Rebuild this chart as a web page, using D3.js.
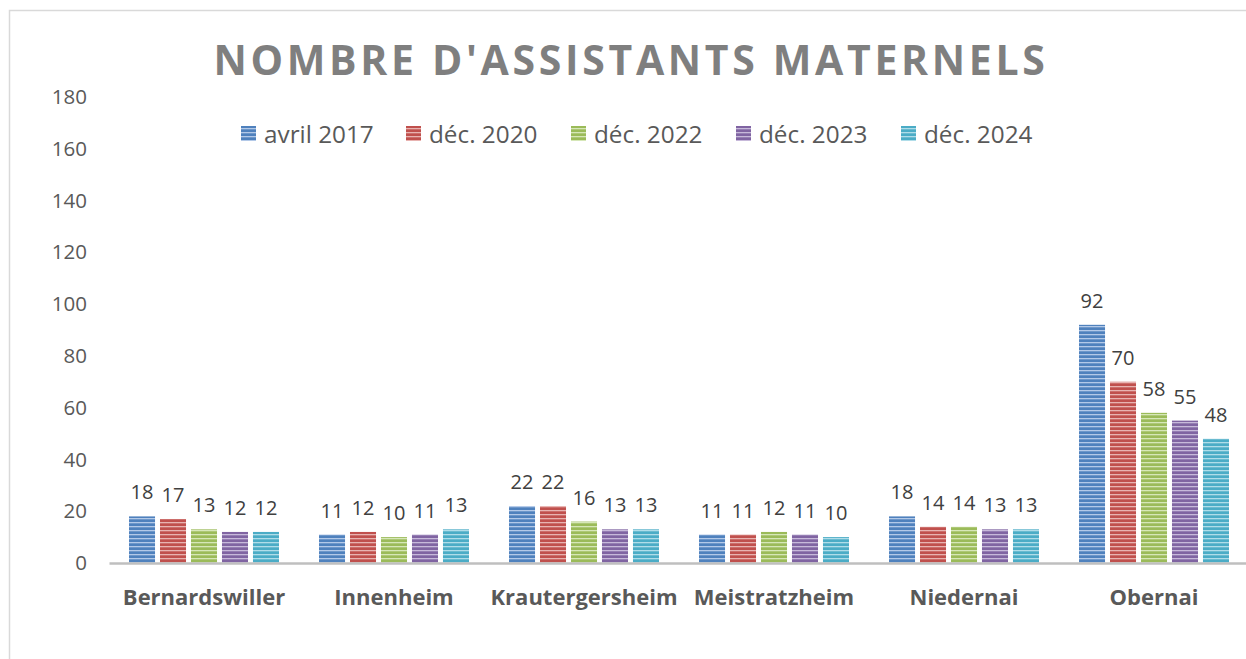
<!DOCTYPE html>
<html>
<head>
<meta charset="utf-8">
<script src="https://cdn.jsdelivr.net/npm/d3@7"></script>
<style>
  body { margin: 0; background: #fff; }
  svg { display: block; font-family: "Open Sans", Lato, sans-serif; }
</style>
</head>
<body>
<svg id="chart" width="1246" height="659"></svg>
<script>
var communes = ["Bernardswiller", "Innenheim", "Krautergersheim", "Meistratzheim", "Niedernai", "Obernai"];
var periodes = ["avril 2017", "déc. 2020", "déc. 2022", "déc. 2023", "déc. 2024"];
var avril2017 = [18, 11, 22, 11, 18, 92];
var dec2020 = [17, 12, 22, 11, 14, 70];
var dec2022 = [13, 10, 16, 12, 14, 58];
var dec2023 = [12, 11, 13, 11, 13, 55];
var dec2024 = [12, 13, 13, 10, 13, 48];
var yTicks = [0, 20, 40, 60, 80, 100, 120, 140, 160, 180];

var series = [avril2017, dec2020, dec2022, dec2023, dec2024];
var colors = ["#4f81bd", "#c0504d", "#9bbb59", "#8064a2", "#4bacc6"];
var lights = ["#b3c9e8", "#e8b3b1", "#d6e7b8", "#c7b9da", "#b0dde9"];

var svg = d3.select("#chart");

// chart frame
svg.append("rect")
  .attr("x", 9.5).attr("y", 10.5)
  .attr("width", 1300).attr("height", 700)
  .attr("fill", "none").attr("stroke", "#d9d9d9").attr("stroke-width", 1.5);

// striped fills
var defs = svg.append("defs");
colors.forEach(function(c, i){
  var p = defs.append("pattern")
    .attr("id", "stripe" + i)
    .attr("patternUnits", "userSpaceOnUse")
    .attr("width", 8).attr("height", 4);
  p.append("rect").attr("width", 8).attr("height", 4).attr("fill", c);
  p.append("rect").attr("y", 2).attr("width", 8).attr("height", 1.3).attr("fill", lights[i]);
});

var x = d3.scaleBand().domain(communes).range([109, 1249]).paddingInner(0).paddingOuter(0);
var x1 = d3.scaleBand().domain(d3.range(periodes.length)).range([20, x.bandwidth() - 20]).paddingInner(0.16);
var y = d3.scaleLinear().domain([0, 180]).range([563, 97]);

// title, stretched to the reference width
var title = svg.append("text")
  .attr("x", 631).attr("y", 75)
  .attr("text-anchor", "middle")
  .attr("font-size", 41).attr("font-weight", "bold")
  .attr("fill", "#7f7f7f")
  .text("NOMBRE D'ASSISTANTS MATERNELS");
var tw = title.node().getComputedTextLength();
title.attr("letter-spacing", (835 - tw) / 29);

// y axis labels
var yAxis = d3.axisLeft(y).tickValues(yTicks).tickSize(0).tickPadding(0);
var gy = svg.append("g").attr("transform", "translate(87,0)").call(yAxis);
gy.select(".domain").remove();
gy.selectAll("text")
  .attr("font-family", "'Open Sans', Lato, sans-serif")
  .attr("font-size", 20.5).attr("fill", "#595959");

// bars
var groups = svg.selectAll("g.commune").data(communes).enter().append("g")
  .attr("class", "commune")
  .attr("transform", function(d){ return "translate(" + x(d) + ",0)"; });

groups.each(function(c, ci){
  var g = d3.select(this);
  series.forEach(function(s, si){
    g.append("rect")
      .attr("x", x1(si)).attr("y", y(s[ci]))
      .attr("width", x1.bandwidth()).attr("height", y(0) - y(s[ci]))
      .attr("fill", "url(#stripe" + si + ")");
    g.append("text")
      .attr("x", x1(si) + x1.bandwidth() / 2).attr("y", y(s[ci]) - 17)
      .attr("text-anchor", "middle")
      .attr("font-size", 20).attr("fill", "#404040")
      .text(s[ci]);
  });
});

// x axis
var xAxis = d3.axisBottom(x).tickSize(0).tickPadding(0);
var gx = svg.append("g").attr("transform", "translate(0,563)").call(xAxis);
gx.select(".domain").attr("stroke", "#bfbfbf").attr("stroke-width", 2.5);
gx.selectAll("text")
  .attr("font-family", "'Open Sans', Lato, sans-serif")
  .attr("font-size", 22).attr("font-weight", "bold").attr("fill", "#595959")
  .attr("dy", 0).attr("y", 42);

// legend
var legend = svg.append("g").attr("transform", "translate(241,126)");
periodes.forEach(function(p, i){
  var lg = legend.append("g").attr("transform", "translate(" + (i * 165) + ",0)");
  lg.append("rect").attr("width", 15).attr("height", 15).attr("fill", "url(#stripe" + i + ")");
  lg.append("text").attr("x", 23).attr("y", 16.5)
    .attr("font-size", 24.3).attr("fill", "#595959").text(p);
});
</script>
</body>
</html>
